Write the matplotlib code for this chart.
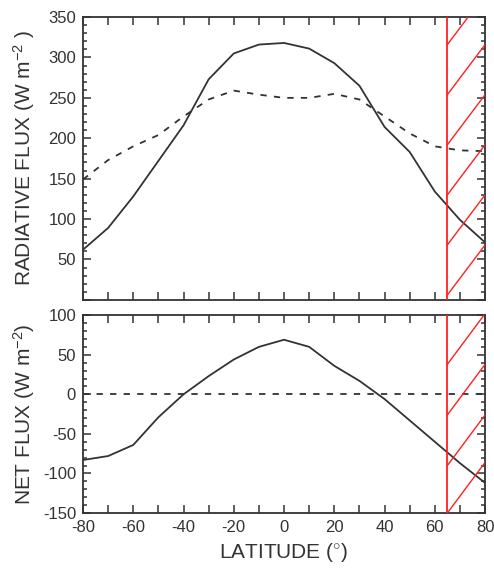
import numpy as np
import matplotlib
matplotlib.use("Agg")
import matplotlib.pyplot as plt
from matplotlib.ticker import MultipleLocator, FuncFormatter

plt.rcParams["font.family"] = ["Liberation Sans", "DejaVu Sans"]
plt.rcParams["axes.unicode_minus"] = False
plt.rcParams["mathtext.fontset"] = "custom"
plt.rcParams["mathtext.rm"] = "Liberation Sans"
plt.rcParams["mathtext.it"] = "Liberation Sans"

latitude = [-80, -70, -60, -50, -40, -30, -20, -10, 0, 10, 20, 30, 40, 50, 60, 70, 80]
absorbed_solar = [62, 89, 128, 172, 216, 273, 305, 316, 318, 311, 293, 265, 214, 183, 134, 99, 71]
outgoing_lw = [149, 173, 190, 204, 227, 248, 259, 254, 250, 250, 255, 248, 227, 206, 190, 185, 184]
net_flux = [-83, -78, -64, -29, 0, 23, 44, 60, 69, 60, 36, 17, -6, -33, -60, -87, -112]
zero_line = [0] * len(latitude)
polar_edge = 65

ink = "#333333"
red = "#ff2020"

fig = plt.figure(figsize=(4.94, 5.70), dpi=100)
ax1 = fig.add_axes([0.168, 0.474, 0.814, 0.496])
ax2 = fig.add_axes([0.168, 0.100, 0.814, 0.347])


def style_axis(ax, ylim, ymajor, yminor):
    ax.set_xlim(-80, 80)
    ax.set_ylim(*ylim)
    ax.xaxis.set_major_locator(MultipleLocator(10))
    ax.yaxis.set_major_locator(MultipleLocator(ymajor))
    ax.yaxis.set_minor_locator(MultipleLocator(yminor))
    ax.tick_params(which="both", direction="in", top=True, right=True,
                   colors=ink, labelsize=12, width=1.1)
    ax.tick_params(which="major", length=6, pad=5)
    ax.tick_params(which="minor", length=3)
    for s in ax.spines.values():
        s.set_color(ink)
        s.set_linewidth(1.3)


def hatch(ax, starts, rise, width=15):
    ax.axvline(polar_edge, color=red, lw=1.3, zorder=3)
    for y0 in starts:
        ax.plot([polar_edge, polar_edge + width], [y0, y0 + rise],
                color=red, lw=1.0, zorder=3)


# top panel
style_axis(ax1, (0, 350), 50, 10)
ax1.plot(latitude, absorbed_solar, color=ink, lw=1.3)
ax1.plot(latitude, outgoing_lw, color=ink, lw=1.3, dashes=(3.5, 4))
hatch(ax1, [6, 68, 130, 192, 254, 316], 62)
ax1.yaxis.set_major_formatter(FuncFormatter(lambda v, p: "" if v == 0 else f"{v:.0f}"))
ax1.set_xticklabels([])
ax1.set_ylabel("RADIATIVE FLUX (W m$^{-2}$ )", fontsize=15, color=ink, labelpad=8)

# bottom panel
style_axis(ax2, (-150, 100), 50, 10)
ax2.plot(latitude, net_flux, color=ink, lw=1.3)
ax2.plot(latitude, zero_line, color=ink, lw=1.3, dashes=(3.5, 4))
hatch(ax2, [-150, -90, -26, 38], 64)
ax2.xaxis.set_major_formatter(FuncFormatter(lambda v, p: f"{v:.0f}" if v % 20 == 0 else ""))
ax2.set_ylabel("NET FLUX (W m$^{-2}$)", fontsize=15, color=ink, labelpad=4)
ax2.set_xlabel("LATITUDE ($^{\\circ}$)", fontsize=15, color=ink, labelpad=4)

fig.align_ylabels([ax1, ax2])
fig.savefig("out.png", dpi=100)
